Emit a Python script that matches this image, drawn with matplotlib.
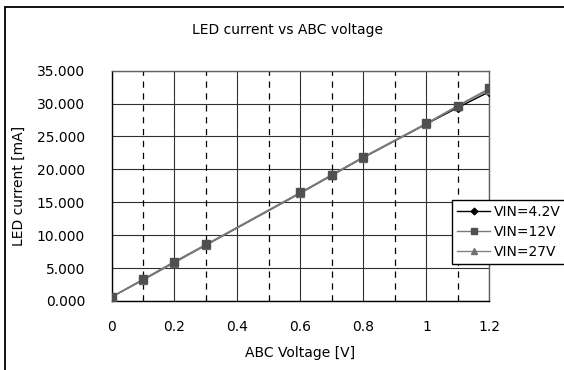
import matplotlib
matplotlib.use("Agg")
import matplotlib.pyplot as plt
from matplotlib.patches import Rectangle

# data
abc_voltage = [0.0, 0.1, 0.2, 0.3, 0.6, 0.7, 0.8, 1.0, 1.1, 1.2]
vin_4v2 = [0.6, 3.2, 5.9, 8.5, 16.4, 19.1, 21.8, 26.9, 29.4, 31.8]
vin_12v = [0.6, 3.3, 6.0, 8.6, 16.5, 19.2, 21.9, 27.0, 29.7, 32.3]
vin_27v = [0.6, 3.2, 5.8, 8.5, 16.4, 19.1, 21.8, 26.9, 29.6, 32.1]
x_ticks = [0, 0.2, 0.4, 0.6, 0.8, 1.0, 1.2]
x_tick_labels = ["0", "0.2", "0.4", "0.6", "0.8", "1", "1.2"]
dashed_x = [0.1, 0.3, 0.5, 0.7, 0.9, 1.1]
y_ticks = [0, 5, 10, 15, 20, 25, 30, 35]

plt.rcParams["font.family"] = ["DejaVu Sans"]
plt.rcParams["font.size"] = 10

fig = plt.figure(figsize=(5.64, 3.70), dpi=100)
ax = fig.add_axes([0.1977, 0.1865, 0.670, 0.6225])

# grid
for y in y_ticks:
    ax.axhline(y, color="#303030", lw=0.8, zorder=1)
for x in x_ticks:
    ax.axvline(x, color="#303030", lw=0.8, zorder=1)
for x in dashed_x:
    ax.axvline(x, color="black", lw=0.9, linestyle=(0, (5, 4.5)), zorder=1)

# series
ax.plot(abc_voltage, vin_4v2, color="black", lw=1.0, marker="D", ms=4.5,
        label="VIN=4.2V", zorder=3)
ax.plot(abc_voltage, vin_27v, color="#808080", lw=1.0, marker="^", ms=5.5,
        mfc="#707070", mec="#707070", label="VIN=27V", zorder=4)
ax.plot(abc_voltage, vin_12v, color="#7a7a7a", lw=1.0, marker="s", ms=6,
        mfc="#505050", mec="#505050", label="VIN=12V", zorder=5)

ax.set_xlim(0, 1.2)
ax.set_ylim(0, 35)
ax.set_xticks(x_ticks)
ax.set_xticklabels(x_tick_labels)
ax.set_yticks(y_ticks)
ax.set_yticklabels([f"{v:.3f}" for v in y_ticks])
ax.tick_params(axis="x", length=0, pad=14)
ax.tick_params(axis="y", length=0, pad=19)

for side in ["left", "bottom"]:
    ax.spines[side].set_color("black")
    ax.spines[side].set_linewidth(1.0)
for side in ["top", "right"]:
    ax.spines[side].set_color("#606060")
    ax.spines[side].set_linewidth(1.0)

ax.set_xlabel("ABC Voltage [V]", labelpad=8)
ax.set_ylabel("LED current [mA]", labelpad=8)

fig.text(287.5 / 564, 1 - 30 / 370, "LED current vs ABC voltage",
         ha="center", va="center")

# legend in order 4.2V, 12V, 27V
handles, labels = ax.get_legend_handles_labels()
order = [0, 2, 1]
leg = ax.legend([handles[i] for i in order], [labels[i] for i in order],
                loc="upper left", bbox_to_anchor=(0.901, 0.4386),
                borderaxespad=0, frameon=True, fancybox=False,
                handlelength=2.4, handletextpad=0.3, labelspacing=0.45,
                borderpad=0.35, framealpha=1, markerscale=0.75)
leg.get_frame().set_edgecolor("black")
leg.get_frame().set_linewidth(1.0)
leg.set_zorder(10)

# outer chart border
fig.add_artist(Rectangle((5 / 564, -0.05), 1.2, 1 - 7 / 370 + 0.05,
                         transform=fig.transFigure, fill=False,
                         edgecolor="black", lw=1.3))

fig.savefig("out.png", dpi=100)
